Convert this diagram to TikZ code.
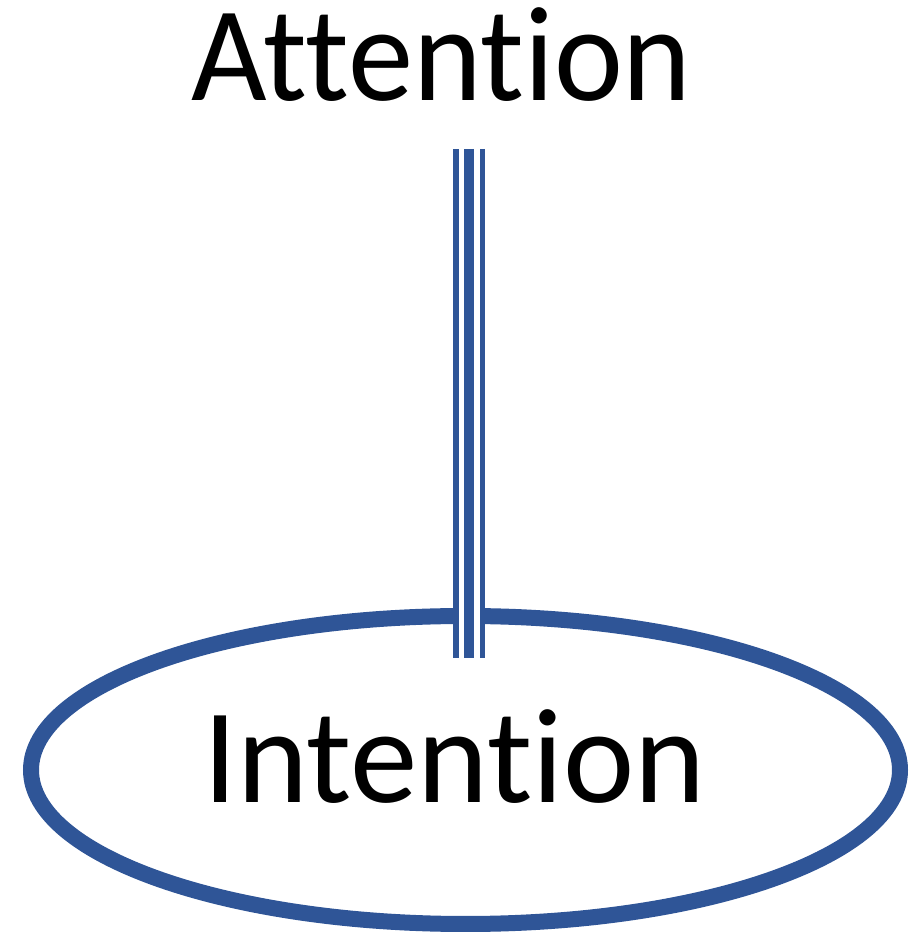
\documentclass[tikz,border=0pt]{standalone}
\usepackage{fontspec}
\setmainfont{Carlito}[Ligatures=NoCommon,RawFeature={-liga;-clig;-dlig}]
\usetikzlibrary{shapes.geometric}
\definecolor{ublue}{RGB}{47,85,151}
\begin{document}
\begin{tikzpicture}[x=1pt,y=1pt,
  bigtext/.style={inner sep=0pt,outer sep=0pt,font=\fontsize{135}{135}\selectfont,anchor=base,text height=95pt},
  ellbox/.style={draw=ublue,line width=16pt,ellipse,inner sep=0pt,minimum width=869pt,minimum height=308pt}]
\useasboundingbox (0,0) rectangle (922,934);
\node[bigtext] (att) at (441.5,833.3) {\scalebox{0.967}[1]{Attention}};
\node[ellbox] (ell) at (465.5,164) {};
\node[bigtext] (int) at (454.5,131) {Intention};
\coordinate (ctop) at (469,785);
\coordinate (cbot) at (469,276);
\draw[ublue,line width=32.3pt] (ctop) -- (cbot);
\draw[white,line width=21pt] (ctop) -- (cbot);
\draw[ublue,line width=10.5pt] (ctop) -- (cbot);
\end{tikzpicture}
\end{document}
